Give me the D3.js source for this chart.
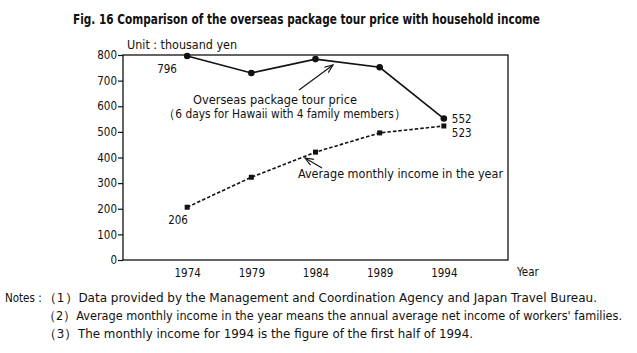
<!DOCTYPE html>
<html>
<head>
<meta charset="utf-8">
<script src="https://cdn.jsdelivr.net/npm/d3@7"></script>
<style>
  body { margin: 0; background: #fff; }
  text { font-family: "Liberation Sans Narrow", "Arial Narrow", "DejaVu Sans Condensed", sans-serif; fill: #111; }
</style>
</head>
<body>
<script>
// chart data
const years = [1974, 1979, 1984, 1989, 1994];
const tourPrice = [796, 730, 784, 752, 552];
const monthlyIncome = [206, 323, 421, 496, 523];
const yTicks = [0, 100, 200, 300, 400, 500, 600, 700, 800];
const notes = [
  "\uFF081\uFF09Data provided by the Management and Coordination Agency and Japan Travel Bureau.",
  "\uFF082\uFF09Average monthly income in the year means the annual average net income of workers' families.",
  "\uFF083\uFF09The monthly income for 1994 is the figure of the first half of 1994."
];
const noteWidths = [554, 579, 430];

const width = 637, height = 353;

const svg = d3.select("body").append("svg")
    .attr("width", width)
    .attr("height", height);

// plot frame
const plotLeft = 123, plotRight = 508, plotTop = 55, plotBottom = 260;

const x = d3.scaleLinear().domain([1969, 1999]).range([plotLeft, plotRight]);
const y = d3.scaleLinear().domain([0, 800]).range([plotBottom, plotTop]);

// squeeze a text to the width it has in the picture
function fitText(sel, w) {
    sel.attr("textLength", w).attr("lengthAdjust", "spacingAndGlyphs");
    return sel;
}

// title + unit
fitText(svg.append("text")
    .attr("x", 73).attr("y", 24)
    .attr("font-size", 13.5).attr("font-weight", "bold")
    .text("Fig. 16 Comparison of the overseas package tour price with household income"), 467);

fitText(svg.append("text")
    .attr("x", 127).attr("y", 49)
    .attr("font-size", 12.5)
    .text("Unit : thousand yen"), 110);

// box
svg.append("rect")
    .attr("x", plotLeft).attr("y", plotTop)
    .attr("width", plotRight - plotLeft).attr("height", plotBottom - plotTop)
    .attr("fill", "none").attr("stroke", "#111").attr("stroke-width", 1.3);

// y axis
const yAxis = svg.append("g")
    .attr("transform", `translate(${plotLeft},0)`)
    .call(d3.axisLeft(y).tickValues(yTicks).tickSize(5).tickSizeOuter(0));
yAxis.select(".domain").remove();
yAxis.selectAll("line").attr("stroke", "#111").attr("stroke-width", 1.2);
yAxis.selectAll("text").attr("font-size", 11.5).attr("x", -6).attr("font-family", null);

// x axis - labels only
const xAxis = svg.append("g")
    .attr("transform", `translate(0,${plotBottom})`)
    .call(d3.axisBottom(x).tickValues(years).tickFormat(d3.format("d")).tickSize(0));
xAxis.select(".domain").remove();
xAxis.selectAll("text").attr("font-size", 11.5).attr("dy", 14).attr("font-family", null);

svg.append("text")
    .attr("x", 517).attr("y", 276)
    .attr("font-size", 11.5)
    .text("Year");

// lines
const valueLine = d3.line().x((d, i) => x(years[i])).y(d => y(d));

svg.append("path")
    .datum(tourPrice)
    .attr("d", valueLine)
    .attr("fill", "none").attr("stroke", "#111").attr("stroke-width", 1.6);

svg.append("path")
    .datum(monthlyIncome)
    .attr("d", valueLine)
    .attr("fill", "none").attr("stroke", "#111").attr("stroke-width", 1.6)
    .attr("stroke-dasharray", "3.5,2");

svg.selectAll("circle.price")
    .data(tourPrice)
    .enter().append("circle")
    .attr("class", "price")
    .attr("cx", (d, i) => x(years[i]))
    .attr("cy", d => y(d))
    .attr("r", 3.3)
    .attr("fill", "#111");

svg.selectAll("rect.income")
    .data(monthlyIncome)
    .enter().append("rect")
    .attr("class", "income")
    .attr("x", (d, i) => x(years[i]) - 2.5)
    .attr("y", d => y(d) - 2.5)
    .attr("width", 5).attr("height", 5)
    .attr("fill", "#111");

// value labels at the ends
const last = years.length - 1;
svg.append("text")
    .attr("x", x(years[0]) - 30).attr("y", y(tourPrice[0]) + 17)
    .attr("font-size", 11.5).text(tourPrice[0]);
svg.append("text")
    .attr("x", x(years[last]) + 8).attr("y", y(tourPrice[last]) + 4)
    .attr("font-size", 11.5).text(tourPrice[last]);
svg.append("text")
    .attr("x", x(years[last]) + 8).attr("y", y(monthlyIncome[last]) + 11)
    .attr("font-size", 11.5).text(monthlyIncome[last]);
svg.append("text")
    .attr("x", x(years[0]) - 19).attr("y", y(monthlyIncome[0]) + 17)
    .attr("font-size", 11.5).text(monthlyIncome[0]);

// annotation arrows
function arrow(x1, y1, x2, y2) {
    const a = Math.atan2(y2 - y1, x2 - x1);
    const L = 9, w = 0.38;
    svg.append("line")
        .attr("x1", x1).attr("y1", y1).attr("x2", x2).attr("y2", y2)
        .attr("stroke", "#111").attr("stroke-width", 1.1);
    svg.append("path")
        .attr("d", `M${x2 - L * Math.cos(a - w)},${y2 - L * Math.sin(a - w)} L${x2},${y2} L${x2 - L * Math.cos(a + w)},${y2 - L * Math.sin(a + w)}`)
        .attr("fill", "none").attr("stroke", "#111").attr("stroke-width", 1.1);
}

arrow(299, 90, 333, 65);
arrow(322, 168, 305, 158);

fitText(svg.append("text")
    .attr("x", 193).attr("y", 104)
    .attr("font-size", 12.5)
    .text("Overseas package tour price"), 164);
fitText(svg.append("text")
    .attr("x", 163).attr("y", 117.5)
    .attr("font-size", 12.5)
    .text("\uFF086 days for Hawaii with 4 family members\uFF09"), 243);
fitText(svg.append("text")
    .attr("x", 298).attr("y", 178)
    .attr("font-size", 12.5)
    .text("Average monthly income in the year"), 205);

// notes
svg.append("text")
    .attr("x", 5).attr("y", 302)
    .attr("font-size", 11.5)
    .text("Notes :");

svg.selectAll("text.note")
    .data(notes)
    .enter().append("text")
    .attr("class", "note")
    .attr("x", 43)
    .attr("y", (d, i) => 302 + i * 18)
    .attr("font-size", 12.5)
    .attr("textLength", (d, i) => noteWidths[i])
    .attr("lengthAdjust", "spacingAndGlyphs")
    .text(d => d);
</script>
</body>
</html>
